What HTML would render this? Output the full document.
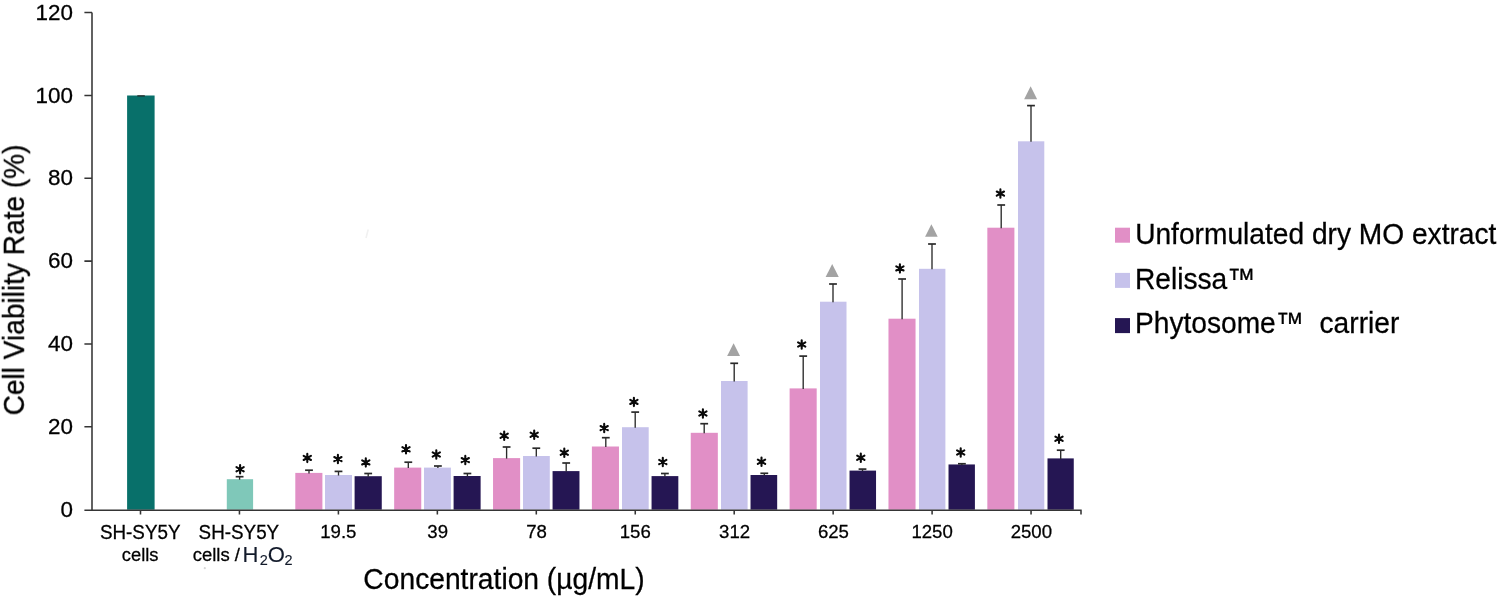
<!DOCTYPE html>
<html><head><meta charset="utf-8"><style>
html,body{margin:0;padding:0;background:#fff;}
svg{display:block;}
text{font-family:"Liberation Sans",sans-serif;fill:#000;stroke:#000;stroke-width:0.28px;}
</style></head><body>
<svg width="1500" height="599" viewBox="0 0 1500 599">
<rect width="1500" height="599" fill="#fff"/>
<rect x="127.10" y="95.50" width="27.50" height="414.20" fill="#08706a"/>
<path d="M137.3 95.9H144.8" stroke="#222" stroke-width="1.2"/>
<rect x="226.80" y="479.20" width="26.30" height="30.50" fill="#7fc8b9"/>
<path d="M239.60 479.70V476.70" stroke="#2a2a2a" stroke-width="1.35" fill="none"/><path d="M235.70 476.70H243.50" stroke="#2a2a2a" stroke-width="1.7" fill="none"/>
<path d="M240.10 465.00L240.10 473.40M236.46 467.10L243.74 471.30M236.46 471.30L243.74 467.10" stroke="#0a0a0a" stroke-width="2.1" stroke-linecap="round" fill="none"/><circle cx="240.10" cy="469.20" r="2.0" fill="#0a0a0a"/>
<rect x="295.30" y="472.90" width="27.10" height="36.80" fill="#e18fc6"/>
<path d="M309.00 473.40V470.20" stroke="#2a2a2a" stroke-width="1.35" fill="none"/><path d="M305.10 470.20H312.90" stroke="#2a2a2a" stroke-width="1.7" fill="none"/>
<path d="M307.30 453.70L307.30 462.10M303.66 455.80L310.94 460.00M303.66 460.00L310.94 455.80" stroke="#0a0a0a" stroke-width="2.1" stroke-linecap="round" fill="none"/><circle cx="307.30" cy="457.90" r="2.0" fill="#0a0a0a"/>
<rect x="325.00" y="475.00" width="27.00" height="34.70" fill="#c6c2eb"/>
<path d="M338.50 475.50V471.40" stroke="#2a2a2a" stroke-width="1.35" fill="none"/><path d="M334.60 471.40H342.40" stroke="#2a2a2a" stroke-width="1.7" fill="none"/>
<path d="M337.90 454.90L337.90 463.30M334.26 457.00L341.54 461.20M334.26 461.20L341.54 457.00" stroke="#0a0a0a" stroke-width="2.1" stroke-linecap="round" fill="none"/><circle cx="337.90" cy="459.10" r="2.0" fill="#0a0a0a"/>
<rect x="354.60" y="476.20" width="27.16" height="33.50" fill="#251653"/>
<path d="M368.20 476.70V473.50" stroke="#2a2a2a" stroke-width="1.35" fill="none"/><path d="M364.30 473.50H372.10" stroke="#2a2a2a" stroke-width="1.7" fill="none"/>
<path d="M365.80 458.20L365.80 466.60M362.16 460.30L369.44 464.50M362.16 464.50L369.44 460.30" stroke="#0a0a0a" stroke-width="2.1" stroke-linecap="round" fill="none"/><circle cx="365.80" cy="462.40" r="2.0" fill="#0a0a0a"/>
<rect x="394.16" y="467.60" width="27.09" height="42.10" fill="#e18fc6"/>
<path d="M408.30 468.10V462.20" stroke="#2a2a2a" stroke-width="1.35" fill="none"/><path d="M404.40 462.20H412.20" stroke="#2a2a2a" stroke-width="1.7" fill="none"/>
<path d="M406.00 445.10L406.00 453.50M402.36 447.20L409.64 451.40M402.36 451.40L409.64 447.20" stroke="#0a0a0a" stroke-width="2.1" stroke-linecap="round" fill="none"/><circle cx="406.00" cy="449.30" r="2.0" fill="#0a0a0a"/>
<rect x="424.00" y="467.60" width="26.90" height="42.10" fill="#c6c2eb"/>
<path d="M437.90 468.10V466.00" stroke="#2a2a2a" stroke-width="1.35" fill="none"/><path d="M434.00 466.00H441.80" stroke="#2a2a2a" stroke-width="1.7" fill="none"/>
<path d="M436.30 450.30L436.30 458.70M432.66 452.40L439.94 456.60M432.66 456.60L439.94 452.40" stroke="#0a0a0a" stroke-width="2.1" stroke-linecap="round" fill="none"/><circle cx="436.30" cy="454.50" r="2.0" fill="#0a0a0a"/>
<rect x="453.59" y="476.00" width="27.03" height="33.70" fill="#251653"/>
<path d="M467.40 476.50V473.50" stroke="#2a2a2a" stroke-width="1.35" fill="none"/><path d="M463.50 473.50H471.30" stroke="#2a2a2a" stroke-width="1.7" fill="none"/>
<path d="M465.30 455.90L465.30 464.30M461.66 458.00L468.94 462.20M461.66 462.20L468.94 458.00" stroke="#0a0a0a" stroke-width="2.1" stroke-linecap="round" fill="none"/><circle cx="465.30" cy="460.10" r="2.0" fill="#0a0a0a"/>
<rect x="493.03" y="458.10" width="27.09" height="51.60" fill="#e18fc6"/>
<path d="M506.60 458.60V447.00" stroke="#2a2a2a" stroke-width="1.35" fill="none"/><path d="M502.70 447.00H510.50" stroke="#2a2a2a" stroke-width="1.7" fill="none"/>
<path d="M504.20 431.60L504.20 440.00M500.56 433.70L507.84 437.90M500.56 437.90L507.84 433.70" stroke="#0a0a0a" stroke-width="2.1" stroke-linecap="round" fill="none"/><circle cx="504.20" cy="435.80" r="2.0" fill="#0a0a0a"/>
<rect x="523.00" y="456.00" width="26.80" height="53.70" fill="#c6c2eb"/>
<path d="M536.30 456.50V448.20" stroke="#2a2a2a" stroke-width="1.35" fill="none"/><path d="M532.40 448.20H540.20" stroke="#2a2a2a" stroke-width="1.7" fill="none"/>
<path d="M534.20 430.60L534.20 439.00M530.56 432.70L537.84 436.90M530.56 436.90L537.84 432.70" stroke="#0a0a0a" stroke-width="2.1" stroke-linecap="round" fill="none"/><circle cx="534.20" cy="434.80" r="2.0" fill="#0a0a0a"/>
<rect x="552.57" y="471.10" width="26.90" height="38.60" fill="#251653"/>
<path d="M566.20 471.60V463.00" stroke="#2a2a2a" stroke-width="1.35" fill="none"/><path d="M562.30 463.00H570.10" stroke="#2a2a2a" stroke-width="1.7" fill="none"/>
<path d="M564.30 448.50L564.30 456.90M560.66 450.60L567.94 454.80M560.66 454.80L567.94 450.60" stroke="#0a0a0a" stroke-width="2.1" stroke-linecap="round" fill="none"/><circle cx="564.30" cy="452.70" r="2.0" fill="#0a0a0a"/>
<rect x="591.89" y="446.50" width="27.08" height="63.20" fill="#e18fc6"/>
<path d="M605.80 447.00V437.70" stroke="#2a2a2a" stroke-width="1.35" fill="none"/><path d="M601.90 437.70H609.70" stroke="#2a2a2a" stroke-width="1.7" fill="none"/>
<path d="M604.20 423.90L604.20 432.30M600.56 426.00L607.84 430.20M600.56 430.20L607.84 426.00" stroke="#0a0a0a" stroke-width="2.1" stroke-linecap="round" fill="none"/><circle cx="604.20" cy="428.10" r="2.0" fill="#0a0a0a"/>
<rect x="622.00" y="427.20" width="26.70" height="82.50" fill="#c6c2eb"/>
<path d="M635.20 427.70V412.10" stroke="#2a2a2a" stroke-width="1.35" fill="none"/><path d="M631.30 412.10H639.10" stroke="#2a2a2a" stroke-width="1.7" fill="none"/>
<path d="M633.90 397.70L633.90 406.10M630.26 399.80L637.54 404.00M630.26 404.00L637.54 399.80" stroke="#0a0a0a" stroke-width="2.1" stroke-linecap="round" fill="none"/><circle cx="633.90" cy="401.90" r="2.0" fill="#0a0a0a"/>
<rect x="651.56" y="476.10" width="26.77" height="33.60" fill="#251653"/>
<path d="M664.90 476.60V473.50" stroke="#2a2a2a" stroke-width="1.35" fill="none"/><path d="M661.00 473.50H668.80" stroke="#2a2a2a" stroke-width="1.7" fill="none"/>
<path d="M662.80 457.85L662.80 466.25M659.16 459.95L666.44 464.15M659.16 464.15L666.44 459.95" stroke="#0a0a0a" stroke-width="2.1" stroke-linecap="round" fill="none"/><circle cx="662.80" cy="462.05" r="2.0" fill="#0a0a0a"/>
<rect x="690.75" y="432.80" width="27.08" height="76.90" fill="#e18fc6"/>
<path d="M704.20 433.30V423.70" stroke="#2a2a2a" stroke-width="1.35" fill="none"/><path d="M700.30 423.70H708.10" stroke="#2a2a2a" stroke-width="1.7" fill="none"/>
<path d="M702.90 409.30L702.90 417.70M699.26 411.40L706.54 415.60M699.26 415.60L706.54 411.40" stroke="#0a0a0a" stroke-width="2.1" stroke-linecap="round" fill="none"/><circle cx="702.90" cy="413.50" r="2.0" fill="#0a0a0a"/>
<rect x="721.00" y="381.00" width="26.60" height="128.70" fill="#c6c2eb"/>
<path d="M734.20 381.50V363.30" stroke="#2a2a2a" stroke-width="1.35" fill="none"/><path d="M730.30 363.30H738.10" stroke="#2a2a2a" stroke-width="1.7" fill="none"/>
<path d="M733.60 343.20L740.05 356.10L727.15 356.10Z" fill="#a3a3a3"/>
<rect x="750.54" y="475.00" width="26.64" height="34.70" fill="#251653"/>
<path d="M764.30 475.50V473.30" stroke="#2a2a2a" stroke-width="1.35" fill="none"/><path d="M760.40 473.30H768.20" stroke="#2a2a2a" stroke-width="1.7" fill="none"/>
<path d="M761.50 457.60L761.50 466.00M757.86 459.70L765.14 463.90M757.86 463.90L765.14 459.70" stroke="#0a0a0a" stroke-width="2.1" stroke-linecap="round" fill="none"/><circle cx="761.50" cy="461.80" r="2.0" fill="#0a0a0a"/>
<rect x="789.62" y="388.40" width="27.07" height="121.30" fill="#e18fc6"/>
<path d="M803.20 388.90V356.10" stroke="#2a2a2a" stroke-width="1.35" fill="none"/><path d="M799.30 356.10H807.10" stroke="#2a2a2a" stroke-width="1.7" fill="none"/>
<path d="M801.70 340.30L801.70 348.70M798.06 342.40L805.34 346.60M798.06 346.60L805.34 342.40" stroke="#0a0a0a" stroke-width="2.1" stroke-linecap="round" fill="none"/><circle cx="801.70" cy="344.50" r="2.0" fill="#0a0a0a"/>
<rect x="820.00" y="301.70" width="26.50" height="208.00" fill="#c6c2eb"/>
<path d="M833.00 302.20V284.00" stroke="#2a2a2a" stroke-width="1.35" fill="none"/><path d="M829.10 284.00H836.90" stroke="#2a2a2a" stroke-width="1.7" fill="none"/>
<path d="M832.20 263.90L838.75 277.00L825.65 277.00Z" fill="#a3a3a3"/>
<rect x="849.53" y="470.60" width="26.51" height="39.10" fill="#251653"/>
<path d="M862.50 471.10V469.10" stroke="#2a2a2a" stroke-width="1.35" fill="none"/><path d="M858.60 469.10H866.40" stroke="#2a2a2a" stroke-width="1.7" fill="none"/>
<path d="M860.80 453.60L860.80 462.00M857.16 455.70L864.44 459.90M857.16 459.90L864.44 455.70" stroke="#0a0a0a" stroke-width="2.1" stroke-linecap="round" fill="none"/><circle cx="860.80" cy="457.80" r="2.0" fill="#0a0a0a"/>
<rect x="888.48" y="318.70" width="27.06" height="191.00" fill="#e18fc6"/>
<path d="M902.10 319.20V279.00" stroke="#2a2a2a" stroke-width="1.35" fill="none"/><path d="M898.20 279.00H906.00" stroke="#2a2a2a" stroke-width="1.7" fill="none"/>
<path d="M899.90 264.20L899.90 272.60M896.26 266.30L903.54 270.50M896.26 270.50L903.54 266.30" stroke="#0a0a0a" stroke-width="2.1" stroke-linecap="round" fill="none"/><circle cx="899.90" cy="268.40" r="2.0" fill="#0a0a0a"/>
<rect x="919.00" y="268.80" width="26.40" height="240.90" fill="#c6c2eb"/>
<path d="M932.00 269.30V244.00" stroke="#2a2a2a" stroke-width="1.35" fill="none"/><path d="M928.10 244.00H935.90" stroke="#2a2a2a" stroke-width="1.7" fill="none"/>
<path d="M931.40 224.20L937.70 236.80L925.10 236.80Z" fill="#a3a3a3"/>
<rect x="948.52" y="464.45" width="26.39" height="45.25" fill="#251653"/>
<path d="M961.90 464.95V463.75" stroke="#2a2a2a" stroke-width="1.35" fill="none"/><path d="M958.00 463.75H965.80" stroke="#2a2a2a" stroke-width="1.7" fill="none"/>
<path d="M960.70 448.30L960.70 456.70M957.06 450.40L964.34 454.60M957.06 454.60L964.34 450.40" stroke="#0a0a0a" stroke-width="2.1" stroke-linecap="round" fill="none"/><circle cx="960.70" cy="452.50" r="2.0" fill="#0a0a0a"/>
<rect x="987.34" y="227.70" width="27.06" height="282.00" fill="#e18fc6"/>
<path d="M1001.20 228.20V205.00" stroke="#2a2a2a" stroke-width="1.35" fill="none"/><path d="M997.30 205.00H1005.10" stroke="#2a2a2a" stroke-width="1.7" fill="none"/>
<path d="M1000.40 189.40L1000.40 197.80M996.76 191.50L1004.04 195.70M996.76 195.70L1004.04 191.50" stroke="#0a0a0a" stroke-width="2.1" stroke-linecap="round" fill="none"/><circle cx="1000.40" cy="193.60" r="2.0" fill="#0a0a0a"/>
<rect x="1018.00" y="141.30" width="26.30" height="368.40" fill="#c6c2eb"/>
<path d="M1031.00 141.80V105.60" stroke="#2a2a2a" stroke-width="1.35" fill="none"/><path d="M1027.10 105.60H1034.90" stroke="#2a2a2a" stroke-width="1.7" fill="none"/>
<path d="M1030.60 86.30L1037.10 99.30L1024.10 99.30Z" fill="#a3a3a3"/>
<rect x="1047.50" y="458.40" width="26.26" height="51.30" fill="#251653"/>
<path d="M1060.70 458.90V450.20" stroke="#2a2a2a" stroke-width="1.35" fill="none"/><path d="M1056.80 450.20H1064.60" stroke="#2a2a2a" stroke-width="1.7" fill="none"/>
<path d="M1059.00 434.60L1059.00 443.00M1055.36 436.70L1062.64 440.90M1055.36 440.90L1062.64 436.70" stroke="#0a0a0a" stroke-width="2.1" stroke-linecap="round" fill="none"/><circle cx="1059.00" cy="438.80" r="2.0" fill="#0a0a0a"/>
<circle cx="204.8" cy="568.2" r="1.1" fill="#d6d6d6"/>
<path d="M368.2 229.5L366 238" stroke="#f1f1f1" stroke-width="1.6"/>
<path d="M92 12.54V510.20M84.4 510.20H1081.7M84.4 426.84H92M84.4 343.98H92M84.4 261.12H92M84.4 178.26H92M84.4 95.40H92M84.4 12.54H92M140.50 510.20V514.4M239.45 510.20V514.4M338.40 510.20V514.4M437.35 510.20V514.4M536.30 510.20V514.4M635.25 510.20V514.4M734.20 510.20V514.4M833.15 510.20V514.4M932.10 510.20V514.4M1031.05 510.20V514.4M1081 510.20V514.4" stroke="#353535" stroke-width="1.55" fill="none"/>
<rect x="1115.00" y="227.70" width="15.00" height="15.00" fill="#e18fc6"/>
<rect x="1115.00" y="272.90" width="15.00" height="15.00" fill="#c6c2eb"/>
<rect x="1115.00" y="318.10" width="15.00" height="15.00" fill="#251653"/>
<g style="will-change:transform"><text transform="translate(60.50,516.80) scale(1.02,1)" font-size="22.0" xml:space="preserve" >0</text>
<text transform="translate(48.02,433.94) scale(1.02,1)" font-size="22.0" xml:space="preserve" >20</text>
<text transform="translate(48.02,351.08) scale(1.02,1)" font-size="22.0" xml:space="preserve" >40</text>
<text transform="translate(48.02,268.22) scale(1.02,1)" font-size="22.0" xml:space="preserve" >60</text>
<text transform="translate(48.02,185.36) scale(1.02,1)" font-size="22.0" xml:space="preserve" >80</text>
<text transform="translate(35.54,102.50) scale(1.02,1)" font-size="22.0" xml:space="preserve" >100</text>
<text transform="translate(35.54,19.64) scale(1.02,1)" font-size="22.0" xml:space="preserve" >120</text>
<text transform="translate(320.22,538.40) scale(0.98,1)" font-size="19.0" xml:space="preserve" >19.5</text>
<text transform="translate(427.36,538.40) scale(0.98,1)" font-size="19.0" xml:space="preserve" >39</text>
<text transform="translate(526.17,538.40) scale(0.98,1)" font-size="19.0" xml:space="preserve" >78</text>
<text transform="translate(619.74,538.40) scale(0.98,1)" font-size="19.0" xml:space="preserve" >156</text>
<text transform="translate(719.12,538.40) scale(0.98,1)" font-size="19.0" xml:space="preserve" >312</text>
<text transform="translate(817.89,538.40) scale(0.98,1)" font-size="19.0" xml:space="preserve" >625</text>
<text transform="translate(911.42,538.40) scale(0.98,1)" font-size="19.0" xml:space="preserve" >1250</text>
<text transform="translate(1010.63,538.40) scale(0.98,1)" font-size="19.0" xml:space="preserve" >2500</text>
<text transform="translate(99.97,538.50) scale(0.97,1)" font-size="19.4" xml:space="preserve" >SH-SY5Y</text>
<text transform="translate(121.86,560.70) scale(0.98,1)" font-size="18.7" xml:space="preserve" >cells</text>
<text transform="translate(198.62,538.50) scale(0.97,1)" font-size="19.4" xml:space="preserve" >SH-SY5Y</text>
<text transform="translate(192.71,560.70) scale(0.99,1)" font-size="18.7" xml:space="preserve" >cells /</text>
<text transform="translate(363.37,589.40) scale(0.944,1)" font-size="29.9" xml:space="preserve" >Concentration (µg/mL)</text>
<text transform="translate(1135.13,243.60) scale(0.958,1)" font-size="29.4" xml:space="preserve" >Unformulated dry MO extract</text>
<text transform="translate(1134.99,288.50) scale(0.958,1)" font-size="29.4" xml:space="preserve" >Relissa™</text>
<text transform="translate(1134.99,333.40) scale(0.958,1)" font-size="29.4" xml:space="preserve" >Phytosome™  carrier</text>
<g transform="translate(23.9,415.43) rotate(-90)"><text transform="scale(0.936,1)" font-size="30.0">Cell Viability Rate (%)</text></g></g>
<text font-size="22" style="fill:#121a2a;stroke:#121a2a;stroke-width:0.12px"><tspan x="242.5" y="562.1">H</tspan><tspan x="259.7" y="564.6" font-size="14.5">2</tspan><tspan x="267.8" y="562.1">O</tspan><tspan x="284.6" y="564.6" font-size="14.5">2</tspan></text>
</svg>
</body></html>
